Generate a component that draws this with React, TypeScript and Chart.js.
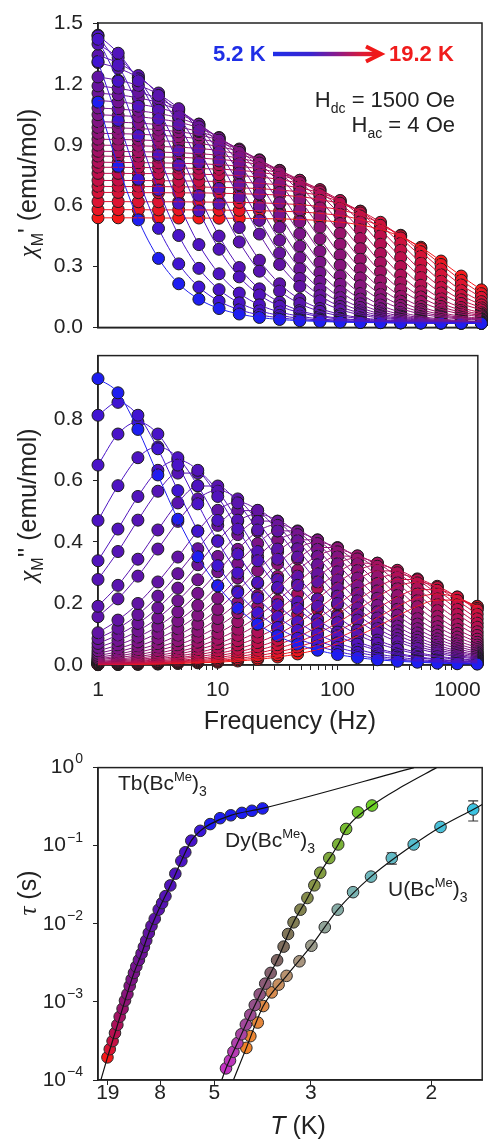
import React, { useEffect, useRef } from 'react';
import { Chart, registerables } from 'chart.js';
Chart.register(...registerables);

const FONT = '"Liberation Sans", Arial, Helvetica, sans-serif';
const SERIF = '"Liberation Serif", "DejaVu Serif", serif';
const INK = '#222';

// ---------- ac susceptibility data (Tb) ----------
const freqHz = [1, 1.468, 2.154, 3.162, 4.642, 6.813, 10, 14.68, 21.54, 31.62, 46.42, 68.13, 100, 146.8, 215.4, 316.2, 464.2, 681.3, 1000, 1468];
const freqAxisTicks = [1, 2, 3, 4, 5, 6, 7, 8, 9, 10, 20, 30, 40, 50, 60, 70, 80, 90, 100, 200, 300, 400, 500, 600, 700, 800, 900, 1000];
const freqAxisLabels = [1, 10, 100, 1000];
const tempsK = [5.2, 5.6, 5.9, 6.3, 6.5, 6.9, 7.2, 7.6, 7.8, 8.1, 8.5, 8.9, 9.2, 9.5, 9.8, 10.1, 10.5, 10.9, 11.3, 11.7, 12.1, 12.6, 13.1, 13.7, 14.5, 15.2, 16.0, 16.9, 18.1, 19.2];

// chi' (emu/mol), one array per temperature (cold -> hot)
const chi1_01 = [1.110, 0.794, 0.530, 0.340, 0.215, 0.139, 0.093, 0.066, 0.049, 0.039, 0.033, 0.029, 0.026, 0.024, 0.023, 0.022, 0.021, 0.021, 0.020, 0.020];
const chi1_02 = [1.310, 1.020, 0.730, 0.488, 0.313, 0.199, 0.129, 0.087, 0.062, 0.047, 0.038, 0.032, 0.028, 0.025, 0.024, 0.022, 0.022, 0.021, 0.021, 0.020];
const chi1_03 = [1.420, 1.213, 0.945, 0.677, 0.453, 0.291, 0.186, 0.121, 0.082, 0.059, 0.045, 0.036, 0.031, 0.027, 0.025, 0.023, 0.022, 0.021, 0.021, 0.021];
const chi1_04 = [1.436, 1.292, 1.090, 0.850, 0.610, 0.408, 0.264, 0.169, 0.111, 0.076, 0.055, 0.042, 0.035, 0.030, 0.027, 0.024, 0.023, 0.022, 0.021, 0.021];
const chi1_05 = [1.440, 1.351, 1.215, 1.026, 0.800, 0.574, 0.385, 0.249, 0.160, 0.105, 0.073, 0.053, 0.041, 0.034, 0.029, 0.026, 0.024, 0.023, 0.022, 0.021];
const chi1_06 = [1.396, 1.330, 1.225, 1.070, 0.870, 0.650, 0.450, 0.295, 0.190, 0.124, 0.083, 0.059, 0.045, 0.036, 0.031, 0.027, 0.025, 0.023, 0.022, 0.021];
const chi1_07 = [1.341, 1.303, 1.241, 1.143, 0.999, 0.812, 0.608, 0.421, 0.277, 0.179, 0.117, 0.079, 0.057, 0.043, 0.035, 0.030, 0.027, 0.025, 0.023, 0.022];
const chi1_08 = [1.305, 1.277, 1.231, 1.155, 1.039, 0.878, 0.685, 0.492, 0.331, 0.215, 0.139, 0.093, 0.065, 0.048, 0.038, 0.032, 0.028, 0.025, 0.024, 0.022];
const chi1_09 = [1.234, 1.218, 1.192, 1.149, 1.078, 0.970, 0.820, 0.640, 0.460, 0.310, 0.202, 0.131, 0.088, 0.062, 0.046, 0.037, 0.031, 0.027, 0.025, 0.023];
const chi1_10 = [1.190, 1.178, 1.159, 1.127, 1.073, 0.989, 0.864, 0.703, 0.527, 0.366, 0.241, 0.157, 0.103, 0.071, 0.052, 0.040, 0.033, 0.029, 0.026, 0.024];
const chi1_11 = [1.154, 1.146, 1.131, 1.107, 1.067, 1.001, 0.901, 0.762, 0.595, 0.429, 0.289, 0.189, 0.123, 0.083, 0.059, 0.044, 0.036, 0.030, 0.027, 0.025];
const chi1_12 = [1.118, 1.111, 1.100, 1.082, 1.052, 1.002, 0.923, 0.807, 0.657, 0.493, 0.343, 0.227, 0.147, 0.098, 0.067, 0.050, 0.039, 0.032, 0.028, 0.025];
const chi1_13 = [1.081, 1.076, 1.067, 1.054, 1.032, 0.994, 0.933, 0.840, 0.710, 0.555, 0.400, 0.270, 0.177, 0.116, 0.078, 0.056, 0.043, 0.034, 0.029, 0.026];
const chi1_14 = [1.048, 1.044, 1.038, 1.027, 1.011, 0.983, 0.936, 0.862, 0.754, 0.614, 0.461, 0.321, 0.213, 0.139, 0.092, 0.064, 0.048, 0.037, 0.031, 0.027];
const chi1_15 = [1.014, 1.011, 1.007, 0.999, 0.986, 0.965, 0.930, 0.873, 0.786, 0.665, 0.520, 0.375, 0.254, 0.167, 0.110, 0.075, 0.054, 0.041, 0.034, 0.029];
const chi1_16 = [0.985, 0.983, 0.980, 0.974, 0.964, 0.949, 0.922, 0.879, 0.810, 0.710, 0.579, 0.436, 0.306, 0.205, 0.136, 0.093, 0.066, 0.051, 0.041, 0.036];
const chi1_17 = [0.956, 0.955, 0.952, 0.947, 0.940, 0.929, 0.909, 0.876, 0.823, 0.741, 0.628, 0.493, 0.357, 0.244, 0.162, 0.109, 0.076, 0.057, 0.045, 0.038];
const chi1_18 = [0.927, 0.926, 0.924, 0.920, 0.915, 0.906, 0.891, 0.867, 0.826, 0.762, 0.667, 0.545, 0.410, 0.288, 0.193, 0.129, 0.088, 0.064, 0.049, 0.040];
const chi1_19 = [0.898, 0.897, 0.895, 0.892, 0.888, 0.882, 0.871, 0.852, 0.822, 0.772, 0.695, 0.589, 0.463, 0.336, 0.230, 0.153, 0.103, 0.073, 0.055, 0.044];
const chi1_20 = [0.868, 0.867, 0.866, 0.864, 0.861, 0.856, 0.848, 0.834, 0.811, 0.774, 0.714, 0.626, 0.512, 0.388, 0.274, 0.186, 0.127, 0.089, 0.066, 0.052];
const chi1_21 = [0.844, 0.843, 0.842, 0.840, 0.838, 0.834, 0.828, 0.818, 0.801, 0.772, 0.725, 0.654, 0.556, 0.438, 0.319, 0.221, 0.150, 0.103, 0.075, 0.058];
const chi1_22 = [0.814, 0.813, 0.812, 0.811, 0.809, 0.806, 0.802, 0.794, 0.781, 0.760, 0.725, 0.669, 0.587, 0.481, 0.364, 0.258, 0.176, 0.120, 0.085, 0.064];
const chi1_23 = [0.789, 0.789, 0.788, 0.787, 0.786, 0.783, 0.780, 0.774, 0.764, 0.749, 0.722, 0.679, 0.612, 0.520, 0.410, 0.300, 0.208, 0.141, 0.098, 0.072];
const chi1_24 = [0.759, 0.759, 0.758, 0.758, 0.757, 0.755, 0.752, 0.748, 0.741, 0.729, 0.709, 0.677, 0.625, 0.549, 0.451, 0.344, 0.246, 0.170, 0.118, 0.086];
const chi1_25 = [0.724, 0.724, 0.724, 0.723, 0.722, 0.721, 0.719, 0.716, 0.710, 0.702, 0.687, 0.663, 0.624, 0.564, 0.480, 0.380, 0.280, 0.197, 0.136, 0.097];
const chi1_26 = [0.695, 0.694, 0.694, 0.694, 0.693, 0.692, 0.690, 0.688, 0.684, 0.677, 0.667, 0.649, 0.619, 0.572, 0.503, 0.414, 0.316, 0.227, 0.158, 0.111];
const chi1_27 = [0.665, 0.665, 0.664, 0.664, 0.663, 0.663, 0.661, 0.659, 0.656, 0.652, 0.644, 0.631, 0.609, 0.573, 0.518, 0.441, 0.350, 0.259, 0.182, 0.127];
const chi1_28 = [0.620, 0.620, 0.619, 0.619, 0.619, 0.618, 0.617, 0.616, 0.614, 0.610, 0.605, 0.595, 0.579, 0.553, 0.512, 0.451, 0.373, 0.287, 0.209, 0.148];
const chi1_29 = [0.580, 0.580, 0.580, 0.579, 0.579, 0.579, 0.578, 0.577, 0.575, 0.573, 0.569, 0.562, 0.551, 0.532, 0.501, 0.454, 0.388, 0.310, 0.232, 0.166];
const chi1_30 = [0.540, 0.540, 0.540, 0.539, 0.539, 0.539, 0.538, 0.538, 0.536, 0.535, 0.532, 0.527, 0.519, 0.505, 0.483, 0.447, 0.395, 0.327, 0.253, 0.185];

// chi'' (emu/mol), one array per temperature (cold -> hot)
const chi2_01 = [0.931, 0.885, 0.766, 0.618, 0.474, 0.352, 0.257, 0.185, 0.133, 0.095, 0.067, 0.048, 0.034, 0.024, 0.017, 0.012, 0.009, 0.006, 0.004, 0.003];
const chi2_02 = [0.812, 0.854, 0.812, 0.703, 0.567, 0.435, 0.323, 0.236, 0.170, 0.122, 0.087, 0.062, 0.044, 0.031, 0.022, 0.016, 0.011, 0.008, 0.006, 0.004];
const chi2_03 = [0.650, 0.751, 0.790, 0.751, 0.650, 0.524, 0.402, 0.299, 0.218, 0.157, 0.113, 0.080, 0.057, 0.041, 0.029, 0.020, 0.014, 0.010, 0.007, 0.005];
const chi2_04 = [0.470, 0.583, 0.674, 0.709, 0.674, 0.583, 0.470, 0.361, 0.268, 0.196, 0.141, 0.101, 0.072, 0.051, 0.036, 0.026, 0.018, 0.013, 0.009, 0.006];
const chi2_05 = [0.339, 0.442, 0.548, 0.633, 0.666, 0.633, 0.548, 0.442, 0.339, 0.252, 0.184, 0.133, 0.095, 0.068, 0.048, 0.034, 0.024, 0.017, 0.012, 0.009];
const chi2_06 = [0.278, 0.369, 0.471, 0.565, 0.624, 0.624, 0.565, 0.471, 0.369, 0.278, 0.205, 0.148, 0.107, 0.076, 0.054, 0.038, 0.027, 0.019, 0.014, 0.010];
const chi2_07 = [0.191, 0.259, 0.344, 0.439, 0.527, 0.582, 0.582, 0.527, 0.439, 0.344, 0.259, 0.191, 0.138, 0.099, 0.071, 0.051, 0.036, 0.026, 0.018, 0.013];
const chi2_08 = [0.157, 0.215, 0.289, 0.377, 0.467, 0.540, 0.568, 0.540, 0.467, 0.377, 0.289, 0.215, 0.157, 0.113, 0.081, 0.058, 0.041, 0.029, 0.021, 0.015];
const chi2_09 = [0.105, 0.146, 0.200, 0.270, 0.351, 0.436, 0.503, 0.530, 0.503, 0.436, 0.351, 0.270, 0.200, 0.146, 0.105, 0.076, 0.054, 0.038, 0.027, 0.019];
const chi2_10 = [0.086, 0.119, 0.164, 0.224, 0.297, 0.378, 0.454, 0.502, 0.502, 0.454, 0.378, 0.297, 0.224, 0.164, 0.119, 0.086, 0.061, 0.044, 0.031, 0.022];
const chi2_11 = [0.070, 0.098, 0.135, 0.186, 0.250, 0.326, 0.404, 0.467, 0.491, 0.467, 0.404, 0.326, 0.250, 0.186, 0.135, 0.098, 0.070, 0.050, 0.036, 0.025];
const chi2_12 = [0.057, 0.080, 0.111, 0.153, 0.209, 0.277, 0.353, 0.424, 0.468, 0.468, 0.424, 0.353, 0.277, 0.209, 0.153, 0.111, 0.080, 0.057, 0.041, 0.029];
const chi2_13 = [0.046, 0.065, 0.091, 0.126, 0.173, 0.233, 0.303, 0.376, 0.434, 0.457, 0.434, 0.376, 0.303, 0.233, 0.173, 0.126, 0.091, 0.065, 0.046, 0.033];
const chi2_14 = [0.038, 0.053, 0.075, 0.104, 0.143, 0.194, 0.258, 0.329, 0.395, 0.436, 0.436, 0.395, 0.329, 0.258, 0.194, 0.143, 0.104, 0.075, 0.053, 0.038];
const chi2_15 = [0.031, 0.043, 0.061, 0.085, 0.118, 0.162, 0.217, 0.283, 0.352, 0.406, 0.427, 0.406, 0.352, 0.283, 0.217, 0.162, 0.118, 0.085, 0.061, 0.043];
const chi2_16 = [0.025, 0.035, 0.050, 0.069, 0.097, 0.133, 0.181, 0.241, 0.307, 0.368, 0.407, 0.407, 0.368, 0.307, 0.241, 0.181, 0.133, 0.097, 0.069, 0.050];
const chi2_17 = [0.020, 0.029, 0.041, 0.057, 0.079, 0.110, 0.151, 0.203, 0.265, 0.329, 0.380, 0.399, 0.380, 0.329, 0.265, 0.203, 0.151, 0.110, 0.079, 0.057];
const chi2_18 = [0.017, 0.024, 0.033, 0.047, 0.065, 0.091, 0.125, 0.170, 0.226, 0.288, 0.345, 0.382, 0.382, 0.345, 0.288, 0.226, 0.170, 0.125, 0.091, 0.065];
const chi2_19 = [0.014, 0.019, 0.027, 0.038, 0.053, 0.074, 0.103, 0.141, 0.190, 0.248, 0.308, 0.355, 0.374, 0.355, 0.308, 0.248, 0.190, 0.141, 0.103, 0.074];
const chi2_20 = [0.011, 0.016, 0.022, 0.031, 0.043, 0.060, 0.084, 0.116, 0.158, 0.209, 0.267, 0.321, 0.354, 0.354, 0.321, 0.267, 0.209, 0.158, 0.116, 0.084];
const chi2_21 = [0.009, 0.013, 0.018, 0.025, 0.035, 0.050, 0.069, 0.096, 0.132, 0.177, 0.231, 0.286, 0.331, 0.348, 0.331, 0.286, 0.231, 0.177, 0.132, 0.096];
const chi2_22 = [0.007, 0.010, 0.015, 0.020, 0.029, 0.040, 0.057, 0.079, 0.108, 0.148, 0.196, 0.250, 0.300, 0.331, 0.331, 0.300, 0.250, 0.196, 0.148, 0.108];
const chi2_23 = [0.006, 0.008, 0.012, 0.017, 0.023, 0.033, 0.046, 0.065, 0.090, 0.123, 0.165, 0.215, 0.267, 0.308, 0.325, 0.308, 0.267, 0.215, 0.165, 0.123];
const chi2_24 = [0.005, 0.007, 0.009, 0.013, 0.019, 0.027, 0.037, 0.052, 0.073, 0.100, 0.136, 0.181, 0.231, 0.277, 0.306, 0.306, 0.277, 0.231, 0.181, 0.136];
const chi2_25 = [0.004, 0.005, 0.008, 0.011, 0.015, 0.021, 0.030, 0.042, 0.059, 0.081, 0.111, 0.150, 0.196, 0.243, 0.280, 0.295, 0.280, 0.243, 0.196, 0.150];
const chi2_26 = [0.003, 0.004, 0.006, 0.009, 0.012, 0.017, 0.024, 0.034, 0.048, 0.066, 0.091, 0.124, 0.165, 0.210, 0.252, 0.278, 0.278, 0.252, 0.210, 0.165];
const chi2_27 = [0.002, 0.003, 0.005, 0.007, 0.010, 0.014, 0.019, 0.027, 0.038, 0.054, 0.074, 0.102, 0.137, 0.179, 0.221, 0.256, 0.269, 0.256, 0.221, 0.179];
const chi2_28 = [0.002, 0.003, 0.004, 0.005, 0.008, 0.011, 0.015, 0.021, 0.030, 0.042, 0.058, 0.080, 0.109, 0.145, 0.184, 0.221, 0.245, 0.245, 0.221, 0.184];
const chi2_29 = [0.002, 0.002, 0.003, 0.004, 0.006, 0.008, 0.012, 0.017, 0.023, 0.033, 0.046, 0.064, 0.087, 0.117, 0.153, 0.190, 0.219, 0.231, 0.219, 0.190];
const chi2_30 = [0.001, 0.002, 0.002, 0.003, 0.005, 0.007, 0.009, 0.013, 0.018, 0.026, 0.036, 0.050, 0.069, 0.094, 0.125, 0.159, 0.191, 0.211, 0.211, 0.191];

const chiPrime = [chi1_01, chi1_02, chi1_03, chi1_04, chi1_05, chi1_06, chi1_07, chi1_08, chi1_09, chi1_10, chi1_11, chi1_12, chi1_13, chi1_14, chi1_15, chi1_16, chi1_17, chi1_18, chi1_19, chi1_20, chi1_21, chi1_22, chi1_23, chi1_24, chi1_25, chi1_26, chi1_27, chi1_28, chi1_29, chi1_30];
const chiDouble = [chi2_01, chi2_02, chi2_03, chi2_04, chi2_05, chi2_06, chi2_07, chi2_08, chi2_09, chi2_10, chi2_11, chi2_12, chi2_13, chi2_14, chi2_15, chi2_16, chi2_17, chi2_18, chi2_19, chi2_20, chi2_21, chi2_22, chi2_23, chi2_24, chi2_25, chi2_26, chi2_27, chi2_28, chi2_29, chi2_30];

const chiPrimeTicks = [0, 0.3, 0.6, 0.9, 1.2, 1.5];
const chiDoubleTicks = [0, 0.2, 0.4, 0.6, 0.8];

// ---------- relaxation times ----------
const tbT = [19.2, 18.1, 16.9, 16.0, 15.2, 14.5, 13.7, 13.1, 12.55, 12.07, 11.69, 11.27, 10.87, 10.46, 10.07, 9.76, 9.46, 9.15, 8.85, 8.51, 8.13, 7.83, 7.56, 7.19, 6.85, 6.48, 6.26, 5.95, 5.54, 5.15, 4.81, 4.49, 4.20, 3.97, 3.75];
const tbTau = [1.95e-4, 2.48e-4, 3.15e-4, 4.0e-4, 5.09e-4, 6.46e-4, 8.19e-4, 1.04e-3, 1.26e-3, 1.6e-3, 1.94e-3, 2.35e-3, 2.84e-3, 3.44e-3, 4.17e-3, 5.05e-3, 6.11e-3, 7.62e-3, 9.4e-3, 1.16e-2, 1.52e-2, 1.84e-2, 2.26e-2, 3.1e-2, 4.38e-2, 6.37e-2, 8.24e-2, 0.116, 0.155, 0.189, 0.225, 0.245, 0.263, 0.28, 0.30];
const dyT = [4.628, 4.513, 4.418, 4.313, 4.213, 4.106, 4.004, 3.908, 3.806, 3.699, 3.599, 3.487, 3.381, 3.312, 3.231, 3.134, 3.042, 2.956, 2.886, 2.786, 2.693, 2.616, 2.508, 2.392];
const dyTau = [1.41e-4, 1.775e-4, 2.30e-4, 2.97e-4, 3.85e-4, 5.13e-4, 6.84e-4, 9.11e-4, 1.249e-3, 1.713e-3, 2.35e-3, 3.41e-3, 5.10e-3, 7.40e-3, 1.044e-2, 1.516e-2, 2.14e-2, 3.11e-2, 4.51e-2, 6.94e-2, 0.1037, 0.164, 0.267, 0.327];
const uT = [4.095, 4.004, 3.846, 3.737, 3.581, 3.462, 3.335, 3.148, 2.992, 2.835, 2.698, 2.552, 2.400, 2.245, 2.102, 1.950, 1.792];
const uTau = [2.58e-4, 3.64e-4, 5.44e-4, 8.85e-4, 1.323e-3, 1.664e-3, 2.155e-3, 3.31e-3, 5.24e-3, 9.05e-3, 1.516e-2, 2.54e-2, 4.02e-2, 6.94e-2, 0.1037, 0.1738, 0.291];
const uErrLo = [null, null, null, null, null, null, null, null, null, null, null, null, null, 0.058, null, null, 0.207];
const uErrHi = [null, null, null, null, null, null, null, null, null, null, null, null, null, 0.0807, null, null, 0.374];

const tbFitT = [23.26, 19.2, 16.0, 13.1, 11.27, 10.07, 9.15, 8.13, 7.19, 6.48, 5.95, 5.54, 5.15, 4.49, 3.75, 2.10];
const tbFitTau = [1.0e-4, 1.95e-4, 4.0e-4, 1.04e-3, 2.35e-3, 4.17e-3, 7.62e-3, 1.52e-2, 3.1e-2, 6.37e-2, 0.116, 0.155, 0.189, 0.245, 0.30, 1.0];
const dyFitT = [4.758, 4.628, 4.313, 4.004, 3.699, 3.487, 3.231, 3.042, 2.886, 2.693, 2.616, 2.392, 2.17, 1.971];
const dyFitTau = [1e-4, 1.41e-4, 2.97e-4, 6.84e-4, 1.713e-3, 3.41e-3, 1.044e-2, 2.14e-2, 4.51e-2, 0.1037, 0.164, 0.327, 0.58, 1.0];
const uFitT = [4.418, 4.095, 3.737, 3.335, 2.992, 2.698, 2.400, 2.102, 1.950, 1.792, 1.753];
const uFitTau = [1e-4, 2.58e-4, 8.85e-4, 2.155e-3, 5.24e-3, 1.516e-2, 4.02e-2, 0.1037, 0.1738, 0.291, 0.336];

const tauTicks = [1e-4, 1e-3, 1e-2, 1e-1, 1];
const tempAxisLabels = [19, 8, 5, 3, 2];

// ---------- styles ----------
type RGB = [number, number, number];
const acStops: [number, RGB][] = [[0, [30, 30, 240]], [0.04, [70, 20, 205]], [0.3, [100, 20, 160]], [0.55, [140, 20, 120]], [0.8, [190, 15, 75]], [0.93, [220, 20, 50]], [1, [245, 25, 25]]];
const dyStops: [number, RGB][] = [[0, [195, 50, 195]], [0.3, [150, 80, 140]], [0.5, [125, 105, 95]], [0.75, [135, 150, 70]], [1, [110, 210, 40]]];
const uStops: [number, RGB][] = [[0, [240, 130, 40]], [0.25, [215, 140, 80]], [0.45, [165, 150, 130]], [0.7, [120, 180, 180]], [1, [60, 195, 225]]];

function ramp(stops: [number, RGB][], tt: number) {
  const t = Math.max(0, Math.min(1, tt));
  for (let i = 1; i < stops.length; i++) {
    if (t <= stops[i][0]) {
      const [t0, c0] = stops[i - 1];
      const [t1, c1] = stops[i];
      const f = (t - t0) / (t1 - t0 || 1);
      return `rgb(${c0.map((c, j) => Math.round(c + (c1[j] - c) * f)).join(',')})`;
    }
  }
  return `rgb(${stops[stops.length - 1][1].join(',')})`;
}
const acColor = (i: number) => ramp(acStops, i / (tempsK.length - 1));

const tickFont = { family: FONT, size: 21 };
const gridTicks = { display: true, drawOnChartArea: false, drawTicks: true, tickLength: 5, color: INK, lineWidth: 1 };
const axisBorder = { display: true, color: INK, width: 1.5 };

const framePlugin = {
  id: 'frame',
  beforeDatasetsDraw(chart: any) {
    const { ctx, chartArea } = chart;
    ctx.save();
    ctx.strokeStyle = INK;
    ctx.lineWidth = 1.5;
    ctx.strokeRect(chartArea.left, chartArea.top, chartArea.right - chartArea.left, chartArea.bottom - chartArea.top);
    ctx.restore();
  },
};

function acDatasets(series: number[][]) {
  const lines = series.map((s, i) => ({
    label: `${tempsK[i]} K fit`,
    data: s.map((y, k) => ({ x: freqHz[k], y })),
    borderColor: acColor(i),
    borderWidth: 1,
    pointRadius: 0,
    fill: false,
    cubicInterpolationMode: 'monotone',
    clip: 6,
  }));
  const pts = series.map((s, i) => ({
    label: `${tempsK[i]} K`,
    data: s.map((y, k) => ({ x: freqHz[k], y })),
    showLine: false,
    pointRadius: 6,
    pointHoverRadius: 6,
    pointBackgroundColor: acColor(i),
    pointBorderColor: '#1c1c1c',
    pointBorderWidth: 1,
    clip: false,
  }));
  return [...lines, ...pts];
}

function yLinear(min: number, max: number, vals: number[]) {
  return {
    type: 'linear',
    min,
    max,
    afterBuildTicks: (s: any) => { s.ticks = vals.map((v) => ({ value: v })); },
    ticks: { callback: (v: any) => Number(v).toFixed(1), font: tickFont, color: INK, padding: 10, autoSkip: false },
    grid: gridTicks,
    border: axisBorder,
    afterFit: (s: any) => { s.width = 98; },
  };
}

function buildTop() {
  return {
    type: 'line',
    data: { datasets: acDatasets(chiPrime) },
    options: {
      responsive: false, animation: false, devicePixelRatio: 1, events: [],
      layout: { padding: { left: 0, right: 5, top: 23, bottom: 7 } },
      plugins: { legend: { display: false }, tooltip: { enabled: false } },
      scales: {
        x: {
          type: 'logarithmic', min: 1, max: 1485,
          ticks: { display: false }, grid: { display: false }, border: axisBorder,
          afterFit: (s: any) => { s.height = 0; },
        },
        y: yLinear(0, 1.5, chiPrimeTicks),
      },
    },
    plugins: [framePlugin],
  };
}

function buildMid() {
  return {
    type: 'line',
    data: { datasets: acDatasets(chiDouble) },
    options: {
      responsive: false, animation: false, devicePixelRatio: 1, events: [],
      layout: { padding: { left: 0, right: 5, top: 10, bottom: 0 } },
      plugins: { legend: { display: false }, tooltip: { enabled: false } },
      scales: {
        x: {
          type: 'logarithmic', min: 1, max: 1485,
          afterBuildTicks: (s: any) => { s.ticks = freqAxisTicks.map((v) => ({ value: v })); },
          ticks: {
            callback: (v: any) => (freqAxisLabels.includes(Number(v)) ? String(v) : ''),
            font: tickFont, color: INK, padding: 8, autoSkip: false, maxRotation: 0,
          },
          grid: gridTicks, border: axisBorder,
          afterFit: (s: any) => { s.height = 75; },
        },
        y: yLinear(0, 1.006, chiDoubleTicks),
      },
    },
    plugins: [framePlugin],
  };
}

const supLabelPlugin = {
  id: 'supLabels',
  afterDraw(chart: any) {
    const s = chart.scales.y;
    const ctx = chart.ctx;
    ctx.save();
    ctx.fillStyle = INK;
    ctx.textBaseline = 'middle';
    s.ticks.forEach((t: any) => {
      const y = s.getPixelForValue(t.value);
      const e = Math.round(Math.log10(t.value));
      const sup = e === 0 ? '0' : '\u2212' + Math.abs(e);
      ctx.font = `14px ${FONT}`;
      const sw = ctx.measureText(sup).width;
      const xr = s.right - 5 - 10;
      ctx.textAlign = 'left';
      ctx.fillText(sup, xr - sw, y - 8);
      ctx.font = `21px ${FONT}`;
      ctx.textAlign = 'right';
      ctx.fillText('10', xr - sw - 1, y);
    });
    ctx.restore();
  },
};

const errorBarPlugin = {
  id: 'errBars',
  beforeDatasetsDraw(chart: any) {
    const { ctx } = chart;
    const xs = chart.scales.x;
    const ys = chart.scales.y;
    ctx.save();
    ctx.strokeStyle = '#333';
    ctx.lineWidth = 1.2;
    uT.forEach((T, i) => {
      const lo = uErrLo[i];
      const hi = uErrHi[i];
      if (lo == null || hi == null) return;
      const x = xs.getPixelForValue(1 / T);
      const y1 = ys.getPixelForValue(lo);
      const y2 = ys.getPixelForValue(hi);
      ctx.beginPath();
      ctx.moveTo(x, y1); ctx.lineTo(x, y2);
      ctx.moveTo(x - 5, y1); ctx.lineTo(x + 5, y1);
      ctx.moveTo(x - 5, y2); ctx.lineTo(x + 5, y2);
      ctx.stroke();
    });
    ctx.restore();
  },
};

function fitSet(label: string, T: number[], tau: number[]) {
  return {
    label,
    data: T.map((t, i) => ({ x: 1 / t, y: tau[i] })),
    borderColor: '#111',
    borderWidth: 1.2,
    pointRadius: 0,
    fill: false,
    cubicInterpolationMode: 'monotone',
    clip: 0,
  };
}
function ptSet(label: string, T: number[], tau: number[], colors: string[]) {
  return {
    label,
    data: T.map((t, i) => ({ x: 1 / t, y: tau[i] })),
    showLine: false,
    pointRadius: 5.8,
    pointHoverRadius: 5.8,
    pointBackgroundColor: colors,
    pointBorderColor: '#2a2a2a',
    pointBorderWidth: 1,
    clip: false,
  };
}

function buildTau() {
  const tbColors = tbT.map((T) => ramp(acStops, (T - 5.15) / (19.2 - 5.15)));
  const dyColors = dyT.map((_, i) => ramp(dyStops, i / (dyT.length - 1)));
  const uColors = uT.map((_, i) => ramp(uStops, i / (uT.length - 1)));
  return {
    type: 'line',
    data: {
      datasets: [
        fitSet('Tb fit', tbFitT, tbFitTau),
        fitSet('Dy fit', dyFitT, dyFitTau),
        fitSet('U fit', uFitT, uFitTau),
        ptSet('Tb(BcMe)3', tbT, tbTau, tbColors),
        ptSet('Dy(BcMe)3', dyT, dyTau, dyColors),
        ptSet('U(BcMe)3', uT, uTau, uColors),
      ],
    },
    options: {
      responsive: false, animation: false, devicePixelRatio: 1, events: [],
      layout: { padding: { left: 0, right: 5, top: 14, bottom: 0 } },
      plugins: { legend: { display: false }, tooltip: { enabled: false } },
      scales: {
        x: {
          type: 'linear', min: 0.039, max: 0.5705,
          afterBuildTicks: (s: any) => { s.ticks = tempAxisLabels.map((T) => ({ value: 1 / T })); },
          ticks: { callback: (v: any) => String(Math.round(1 / Number(v))), font: tickFont, color: INK, padding: -4, autoSkip: false, maxRotation: 0 },
          grid: gridTicks, border: axisBorder,
          afterFit: (s: any) => { s.height = 65; },
        },
        y: {
          type: 'logarithmic', min: 1e-4, max: 1,
          afterBuildTicks: (s: any) => { s.ticks = tauTicks.map((v) => ({ value: v })); },
          ticks: { callback: () => '', font: tickFont, padding: 10 },
          grid: gridTicks, border: axisBorder,
          afterFit: (s: any) => { s.width = 98; },
        },
      },
    },
    plugins: [framePlugin, errorBarPlugin, supLabelPlugin],
  };
}

function ChartCanvas({ top, height, build }: { top: number; height: number; build: () => any }) {
  const ref = useRef<HTMLCanvasElement | null>(null);
  useEffect(() => {
    const chart = new Chart(ref.current as HTMLCanvasElement, build());
    return () => chart.destroy();
  }, []);
  return (
    <canvas
      ref={ref}
      width={489}
      height={height}
      style={{ position: 'absolute', left: 0, top, width: 489, height, display: 'block' }}
    />
  );
}

const base: React.CSSProperties = { position: 'absolute', fontFamily: FONT, color: INK, whiteSpace: 'nowrap', lineHeight: 1 };
const sub = (size: number, dy: number): React.CSSProperties => ({ fontSize: size, position: 'relative', top: dy });

export default function App() {
  Chart.defaults.font.family = FONT;
  Chart.defaults.color = INK;
  return (
    <div style={{ position: 'absolute', left: 0, top: 0, width: 489, height: 1145, background: '#fff', overflow: 'hidden' }}>
      <ChartCanvas top={0} height={350} build={buildTop} />
      <ChartCanvas top={333} height={407} build={buildMid} />
      <ChartCanvas top={745} height={400} build={buildTau} />

      {/* y-axis titles */}
      <div style={{ ...base, left: 27, top: 183, fontSize: 25, transform: 'translate(-50%,-50%) rotate(-90deg)' }}>
        <span style={{ fontFamily: SERIF, fontStyle: 'italic' }}>χ</span><span style={sub(16, 7)}>M</span>' (emu/mol)
      </div>
      <div style={{ ...base, left: 27, top: 505, fontSize: 25, transform: 'translate(-50%,-50%) rotate(-90deg)' }}>
        <span style={{ fontFamily: SERIF, fontStyle: 'italic' }}>χ</span><span style={sub(16, 7)}>M</span>'' (emu/mol)
      </div>
      <div style={{ ...base, left: 27, top: 893, fontSize: 25, transform: 'translate(-50%,-50%) rotate(-90deg)' }}>
        <span style={{ fontFamily: SERIF, fontStyle: 'italic' }}>τ</span> (s)
      </div>

      {/* x-axis titles */}
      <div style={{ ...base, left: 290, top: 720, fontSize: 25, transform: 'translate(-50%,-50%)' }}>Frequency (Hz)</div>
      <div style={{ ...base, left: 298, top: 1125, fontSize: 25, transform: 'translate(-50%,-50%)' }}>
        <span style={{ fontStyle: 'italic' }}>T</span> (K)
      </div>

      {/* temperature arrow */}
      <div style={{ ...base, left: 213, top: 43, fontSize: 22, fontWeight: 'bold', color: '#1f2fe6' }}>5.2 K</div>
      <svg style={{ position: 'absolute', left: 270, top: 44 }} width={118} height={20}>
        <defs>
          <linearGradient id="tgrad" gradientUnits="userSpaceOnUse" x1="3" y1="10" x2="110" y2="10">
            <stop offset="0" stopColor="#1f2fe8" />
            <stop offset="0.35" stopColor="#3a24d0" />
            <stop offset="0.6" stopColor="#8a1a8a" />
            <stop offset="0.85" stopColor="#e01a30" />
            <stop offset="1" stopColor="#f01818" />
          </linearGradient>
        </defs>
        <rect x={3} y={7.8} width={106} height={4.4} fill="url(#tgrad)" />
        <polyline points="96,2.5 111,10 96,17.5" fill="none" stroke="#f01818" strokeWidth={4} strokeLinejoin="miter" />
      </svg>
      <div style={{ ...base, left: 389, top: 43, fontSize: 22, fontWeight: 'bold', color: '#f01c1c' }}>19.2 K</div>

      {/* field annotations */}
      <div style={{ ...base, right: 34, top: 89, fontSize: 22 }}>
        H<span style={sub(14, 6)}>dc</span> = 1500 Oe
      </div>
      <div style={{ ...base, right: 34, top: 114, fontSize: 22 }}>
        H<span style={sub(14, 6)}>ac</span> = 4 Oe
      </div>

      {/* compound labels */}
      <div style={{ ...base, left: 118, top: 772, fontSize: 21 }}>
        Tb(Bc<span style={sub(13, -9)}>Me</span>)<span style={sub(14, 6)}>3</span>
      </div>
      <div style={{ ...base, left: 225, top: 829, fontSize: 21 }}>
        Dy(Bc<span style={sub(13, -9)}>Me</span>)<span style={sub(14, 6)}>3</span>
      </div>
      <div style={{ ...base, left: 388, top: 878, fontSize: 21 }}>
        U(Bc<span style={sub(13, -9)}>Me</span>)<span style={sub(14, 6)}>3</span>
      </div>
    </div>
  );
}
